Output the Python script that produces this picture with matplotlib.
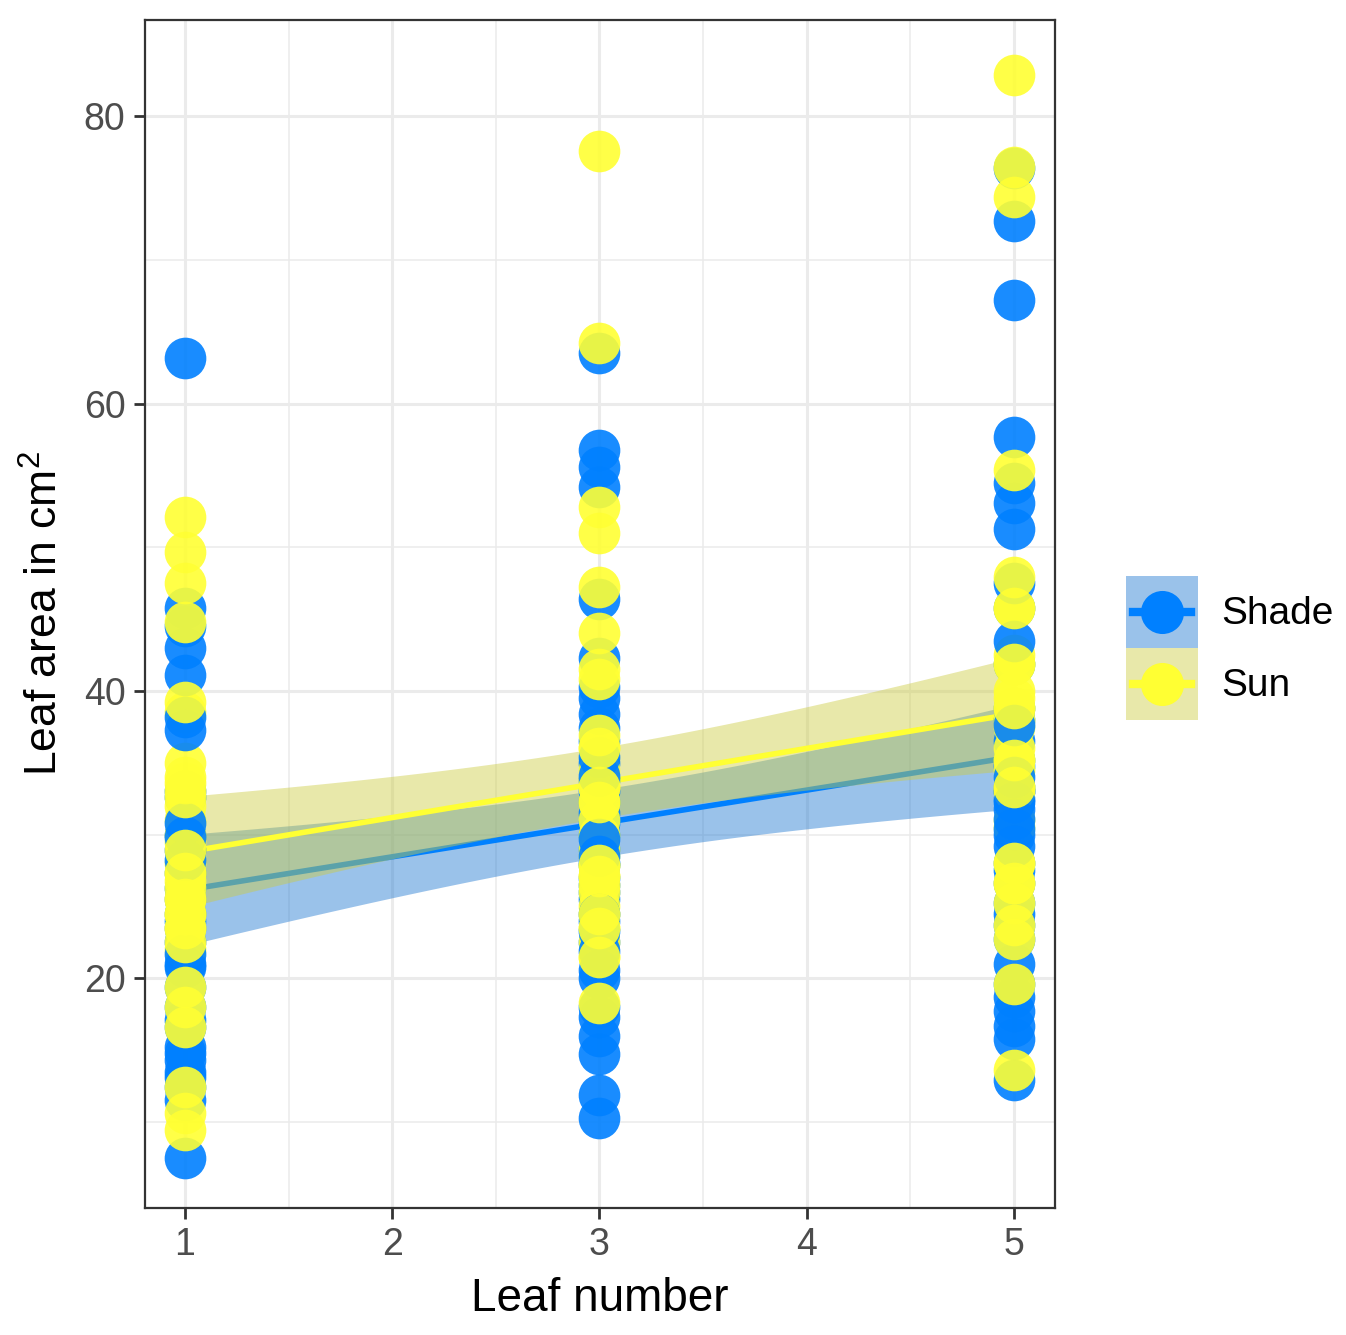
import numpy as np
import matplotlib.pyplot as plt
from matplotlib.lines import Line2D
from matplotlib.patches import Rectangle

plt.rcParams['font.family'] = ['Liberation Sans', 'DejaVu Sans']
plt.rcParams['mathtext.fontset'] = 'custom'
plt.rcParams['mathtext.rm'] = 'Liberation Sans'

# leaf area (cm2) per leaf number and treatment
# *_more = points mostly hidden behind others in the dense part of each column
shade_1 = [63.2, 45.8, 44.5, 43.0, 41.1, 38.2, 37.3, 30.8, 29.8, 28.2, 21.7, 20.8,
           17.1, 15.2, 14.3, 13.1, 11.5, 7.5]
shade_1_more = [25.5, 24.5, 23.5, 22.5, 27.3, 28.9, 26.3, 19.4, 18.0, 16.6, 12.4, 24.0,
                32.6, 30.0, 21.0, 14.8, 13.5, 33.0]
sun_1 = [52.1, 49.7, 47.5, 44.8, 39.2, 33.6, 32.6, 28.9, 27.3, 25.5, 24.5, 23.5,
         22.5, 19.4, 18.0, 16.6, 12.4, 10.6, 9.4]
sun_1_more = [25.5, 26.3, 27.3, 28.0, 24.5, 23.5, 30.0, 31.0, 33.0, 29.5, 35.0, 22.0,
              26.8, 32.0, 38.5, 34.0]
shade_3 = [63.5, 56.8, 55.6, 54.2, 46.4, 42.3, 39.5, 38.4, 35.4, 34.1, 29.7, 28.5,
           24.5, 23.3, 21.9, 20.6, 17.3, 16.0, 14.7, 11.9, 10.3]
shade_3_more = [30.8, 31.5, 28.0, 24.0, 22.5, 33.0, 36.5, 37.4, 26.5, 27.0, 25.5, 32.3,
                40.3, 20.0, 18.0, 29.0, 35.0, 33.8, 27.9, 30.0, 26.0]
sun_3 = [77.6, 64.2, 52.8, 51.0, 47.2, 44.0, 41.5, 40.8, 36.9, 36.0, 33.3, 32.3,
         27.9, 27.1, 24.5, 23.5, 21.5, 18.3]
sun_3_more = [27.9, 27.1, 26.0, 24.5, 23.5, 25.0, 29.0, 30.0, 32.3, 33.3, 34.5, 28.5,
              21.5, 22.5, 36.0, 31.0, 26.5, 33.8]
shade_5 = [76.4, 72.7, 67.2, 57.7, 54.5, 53.1, 51.3, 47.5, 43.5, 37.6, 34.0, 32.3,
           31.1, 30.4, 29.2, 21.0, 18.7, 17.7, 16.7, 15.8, 12.9]
shade_5_more = [33.3, 35.2, 28.0, 26.6, 25.2, 23.7, 22.7, 19.6, 38.8, 41.9, 45.8, 30.0,
                31.8, 33.0, 34.8, 36.5, 27.5, 24.5, 38.0, 33.0, 32.5]
sun_5 = [82.9, 76.5, 74.4, 55.4, 47.9, 45.8, 41.9, 38.8, 35.2, 33.3, 28.0, 26.6,
         25.2, 23.7, 22.7, 19.6, 13.6]
sun_5_more = [38.8, 41.9, 35.2, 33.3, 45.8, 38.0, 40.0, 36.0, 28.0, 26.6, 37.5, 39.5,
              34.5, 30.5, 42.5, 33.0, 31.0]

leaf_numbers = [1, 3, 5]
visible = {'Shade': [shade_1, shade_3, shade_5], 'Sun': [sun_1, sun_3, sun_5]}
hidden = {'Shade': [shade_1_more, shade_3_more, shade_5_more],
          'Sun': [sun_1_more, sun_3_more, sun_5_more]}
point_col = {'Shade': '#0080FF', 'Sun': '#FFFF33'}
band_col = {'Shade': '#1F78D1', 'Sun': '#CCCC43'}
BAND_ALPHA = 0.45


def fit_lm(x, y, xs, t=1.99):
    X = np.column_stack([np.ones_like(x), x])
    beta, *_ = np.linalg.lstsq(X, y, rcond=None)
    n = len(x)
    resid = y - X @ beta
    s2 = resid @ resid / (n - 2)
    sxx = ((x - x.mean()) ** 2).sum()
    fit = beta[0] + beta[1] * xs
    se = np.sqrt(s2 * (1 / n + (xs - x.mean()) ** 2 / sxx))
    return fit, fit - t * se, fit + t * se


class KeyHandler:
    # ggplot style key: ribbon fill + short line + point
    def __init__(self, name):
        self.name = name

    def legend_artist(self, legend, orig_handle, fontsize, handlebox):
        x0, y0 = -handlebox.xdescent, -handlebox.ydescent
        w, h = handlebox.width, handlebox.height
        tr = handlebox.get_transform()
        rect = Rectangle((x0, y0), w, h, facecolor=band_col[self.name],
                         alpha=BAND_ALPHA, lw=0, transform=tr)
        line = Line2D([x0 + 0.1 * w, x0 + 0.9 * w], [y0 + h / 2] * 2,
                      color=point_col[self.name], lw=6, transform=tr)
        dot = Line2D([x0 + w / 2], [y0 + h / 2], marker='o', markersize=31,
                     color=point_col[self.name], markeredgewidth=0, transform=tr)
        for a in (rect, line, dot):
            handlebox.add_artist(a)
        return rect


fig = plt.figure(figsize=(13.46, 13.35), dpi=100)
ax = fig.add_axes([0.1077, 0.0951, 0.6761, 0.8899])

xs = np.linspace(1, 5, 100)
z = 2
for name in ['Shade', 'Sun']:
    x, y = [], []
    for k, a, b in zip(leaf_numbers, visible[name], hidden[name]):
        x += [k] * (len(a) + len(b))
        y += a + b
    fit, lo, hi = fit_lm(np.array(x, float), np.array(y), xs)
    ax.fill_between(xs, lo, hi, color=band_col[name], alpha=BAND_ALPHA, lw=0, zorder=z)
    ax.plot(xs, fit, color=point_col[name], lw=4, zorder=z + 0.5)
    z += 1

# points on top of the smooths; the hidden ones underneath the visible ones
for layer, zz in [(hidden, 5), (visible, 6)]:
    for i, k in enumerate(leaf_numbers):
        for name in ['Shade', 'Sun']:
            v = layer[name][i]
            ax.scatter([k] * len(v), v, s=900, color=point_col[name], alpha=0.9,
                       lw=0, zorder=zz)

ax.set_xlim(0.807, 5.198)
ax.set_ylim(4.0, 86.7)
ax.set_xticks([1, 2, 3, 4, 5])
ax.set_yticks([20, 40, 60, 80])
ax.set_xticks([1.5, 2.5, 3.5, 4.5], minor=True)
ax.set_yticks([10, 30, 50, 70], minor=True)
ax.grid(which='major', color='#EBEBEB', lw=2.2, zorder=0)
ax.grid(which='minor', color='#EBEBEB', lw=1.1, zorder=0)
ax.set_axisbelow(True)
ax.tick_params(which='major', length=8, width=2, color='#333333',
               labelsize=27, labelcolor='#4D4D4D', pad=6)
ax.tick_params(which='minor', length=0)
for s in ax.spines.values():
    s.set_color('#333333')
    s.set_linewidth(1.6)

ax.set_xlabel('Leaf number', fontsize=33, labelpad=10)
ax.set_ylabel('Leaf area in cm$^{2}$', fontsize=32, labelpad=12)

names = ['Shade', 'Sun']
dummies = [Rectangle((0, 0), 1, 1) for _ in names]
fig.legend(dummies, names, loc='center left', bbox_to_anchor=(0.8365, 0.5146),
           frameon=False, fontsize=28,
           handler_map={d: KeyHandler(n) for d, n in zip(dummies, names)},
           handlelength=1.85, handleheight=2.47, labelspacing=0.0,
           handletextpad=0.6, borderpad=0, borderaxespad=0)

fig.savefig('out.png', dpi=100)
